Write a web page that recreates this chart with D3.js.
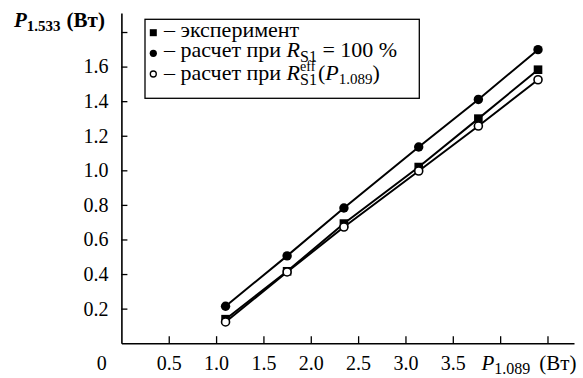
<!DOCTYPE html>
<html>
<head>
<meta charset="utf-8">
<script src="https://cdn.jsdelivr.net/npm/d3@7"></script>
<style>
  body { margin: 0; background: #fff; }
  svg { display: block; }
</style>
</head>
<body>
<script>
// data
const xVals = [1.1, 1.75, 2.35, 3.14, 3.77, 4.40];
const experiment = [0.139, 0.416, 0.692, 1.019, 1.299, 1.582];
const calc100 = [0.214, 0.505, 0.782, 1.135, 1.410, 1.698];
const calcEff = [0.123, 0.412, 0.672, 0.996, 1.256, 1.524];
const xTicks = [0.5, 1.0, 1.5, 2.0, 2.5, 3.0, 3.5, 4.0, 4.5];
const xTickLabels = ['0.5', '1.0', '1.5', '2.0', '2.5', '3.0', '3.5', '', ''];
const yTicks = [0.2, 0.4, 0.6, 0.8, 1.0, 1.2, 1.4, 1.6, 1.8];
const yTickLabels = ['0.2', '0.4', '0.6', '0.8', '1.0', '1.2', '1.4', '1.6', ''];

const W = 583, H = 378;
const FS = 20;
const LFS = 22;

const svg = d3.select('body').append('svg')
    .attr('width', W)
    .attr('height', H);

const x = d3.scaleLinear().domain([0, 4.78]).range([121.4, 574]);
const y = d3.scaleLinear().domain([0, 1.91]).range([343.2, 13]);

// x axis
const gx = svg.append('g')
    .attr('transform', `translate(0,${y(0)})`)
    .call(d3.axisBottom(x)
        .tickValues(xTicks)
        .tickFormat((d, i) => xTickLabels[i])
        .tickSizeInner(-7)
        .tickSizeOuter(0)
        .tickPadding(13));
gx.select('.domain').attr('stroke-width', 1.6);
gx.selectAll('.tick line').attr('stroke-width', 1.3);
gx.selectAll('.tick text')
    .style('font-size', FS + 'px')
    .attr('fill', '#000');

// y axis
const gy = svg.append('g')
    .attr('transform', `translate(${x(0)},0)`)
    .call(d3.axisLeft(y)
        .tickValues(yTicks)
        .tickFormat((d, i) => yTickLabels[i])
        .tickSizeInner(-6)
        .tickSizeOuter(0)
        .tickPadding(13));
gy.select('.domain').attr('stroke-width', 1.6);
gy.selectAll('.tick line').attr('stroke-width', 1.3);
gy.selectAll('.tick text')
    .style('font-size', FS + 'px')
    .attr('fill', '#000');

// "0" at the corner
svg.append('text')
    .attr('x', 101.7)
    .attr('y', 370)
    .attr('text-anchor', 'middle')
    .style('font-size', FS + 'px')
    .text('0');

// axis titles
const yt = svg.append('text')
    .attr('x', 14)
    .attr('y', 26.5)
    .style('font-weight', 'bold')
    .style('font-size', '21px');
yt.append('tspan').style('font-style', 'italic').text('P');
yt.append('tspan').style('font-size', '15px').attr('dy', 4).text('1.533');
yt.append('tspan').attr('dy', -4).attr('dx', 6).text('(Вт)');

const xt = svg.append('text')
    .attr('x', 481.5)
    .attr('y', 370)
    .style('font-size', '21px');
xt.append('tspan').style('font-style', 'italic').text('P');
xt.append('tspan').style('font-size', '16px').attr('dy', 4).text('1.089');
xt.append('tspan').attr('dy', -4).attr('dx', 9).text('(Вт)');

// lines
const line = d3.line()
    .x((d, i) => x(xVals[i]))
    .y(d => y(d));

[experiment, calcEff, calc100].forEach(s => {
    svg.append('path')
        .datum(s)
        .attr('d', line)
        .attr('fill', 'none')
        .attr('stroke', '#000')
        .attr('stroke-width', 2);
});

// markers
svg.selectAll('rect.exp')
    .data(experiment)
    .enter()
    .append('rect')
    .attr('class', 'exp')
    .attr('x', (d, i) => x(xVals[i]) - 4.3)
    .attr('y', d => y(d) - 4.3)
    .attr('width', 8.6)
    .attr('height', 8.6)
    .attr('fill', '#000');

svg.selectAll('circle.eff')
    .data(calcEff)
    .enter()
    .append('circle')
    .attr('class', 'eff')
    .attr('cx', (d, i) => x(xVals[i]))
    .attr('cy', d => y(d))
    .attr('r', 4)
    .attr('fill', '#fff')
    .attr('stroke', '#000')
    .attr('stroke-width', 1.6);

svg.selectAll('circle.c100')
    .data(calc100)
    .enter()
    .append('circle')
    .attr('class', 'c100')
    .attr('cx', (d, i) => x(xVals[i]))
    .attr('cy', d => y(d))
    .attr('r', 4.7)
    .attr('fill', '#000');

// legend
svg.append('rect')
    .attr('x', 145)
    .attr('y', 19.3)
    .attr('width', 274.3)
    .attr('height', 79)
    .attr('fill', '#fff')
    .attr('stroke', '#000')
    .attr('stroke-width', 1.3);

const markY = [32.7, 53.3, 74];
const baseY = [37, 57, 79.5];
const mx = 153.3;

svg.append('rect')
    .attr('x', mx - 3.5).attr('y', markY[0] - 3.5)
    .attr('width', 7).attr('height', 7)
    .attr('fill', '#000');
svg.append('circle')
    .attr('cx', mx).attr('cy', markY[1])
    .attr('r', 3.6).attr('fill', '#000');
svg.append('circle')
    .attr('cx', mx).attr('cy', markY[2])
    .attr('r', 3).attr('fill', '#fff')
    .attr('stroke', '#000').attr('stroke-width', 1.3);

svg.append('text')
    .attr('x', 164).attr('y', baseY[0])
    .style('font-size', LFS + 'px')
    .text('– эксперимент');

const r2 = svg.append('text')
    .attr('x', 164).attr('y', baseY[1])
    .style('font-size', LFS + 'px');
r2.append('tspan').text('– расчет при ');
r2.append('tspan').style('font-style', 'italic').text('R');
r2.append('tspan').style('font-size', '16px').attr('dy', 5).text('S1');
r2.append('tspan').attr('dy', -5).text(' = 100 %');

const r3 = svg.append('text')
    .attr('x', 164).attr('y', baseY[2])
    .style('font-size', LFS + 'px');
r3.append('tspan').text('– расчет при ');
r3.append('tspan').style('font-style', 'italic').text('R');
const sup = r3.append('tspan').style('font-size', '14px').attr('dy', -8.5).text('eff');
const sub = r3.append('tspan').style('font-size', '16px').attr('dy', 13.5).text('S1');
const tail1 = r3.append('tspan').attr('dy', -5).text('(');
r3.append('tspan').style('font-style', 'italic').text('P');
r3.append('tspan').style('font-size', '15px').attr('dy', 4).text('1.089');
r3.append('tspan').attr('dy', -4).text(')');

// serif everywhere, set on each text node
svg.selectAll('text, tspan').style('font-family', "'Liberation Serif'");

// stack eff over S1 once the serif metrics are in place
const supW = sup.node().getComputedTextLength();
sub.attr('dx', -supW);
const subW = sub.node().getComputedTextLength();
tail1.attr('dx', Math.max(0, supW - subW) + 1);
</script>
</body>
</html>
